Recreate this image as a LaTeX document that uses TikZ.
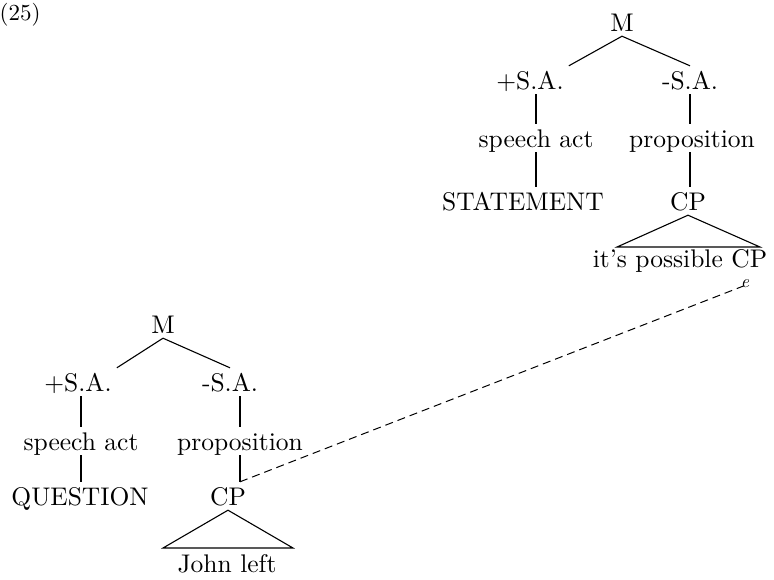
\documentclass[tikz,border=0pt]{standalone}
\usepackage{fontspec}
\setmainfont{lmroman10-regular.otf}[ItalicFont=lmroman10-italic.otf]
\begin{document}
\begin{tikzpicture}[x=1pt,y=-1pt,
  lab/.style={anchor=base,inner sep=5pt,font=\fontsize{25.5}{30}\selectfont,text height=18pt,text depth=0pt},
  edge/.style={line width=1.1pt},
  dashline/.style={line width=1pt,dash pattern=on 8pt off 5pt}]
\useasboundingbox (0,0) rectangle (774,579);
\node[anchor=center,inner sep=0pt,font=\fontsize{23}{25}\selectfont] (num) at (20,15) {(25)};
% top tree
\node[lab] (tM) at (622,31) {M};
\node[lab] (tp) at (530,89) {+S.A.};
\node[lab] (tm) at (690,89) {-S.A.};
\node[lab] (tsa) at (536,147) {speech act};
\node[lab] (tpr) at (692,147) {proposition};
\node[lab] (tst) at (523,210) {STATEMENT};
\node[lab] (tcp) at (688,210) {CP};
\node[lab] (tyl) at (680,267) {it's possible CP};
\node[anchor=base,inner sep=0pt,font=\fontsize{18}{20}\selectfont\itshape] (te) at (745,287) {e};
\coordinate (tl) at (617,247);
\coordinate (tr) at (760,247);
\draw[edge] (tM.south) -- (tp.north east);
\draw[edge] (tM.south) -- (tm.north);
\draw[edge] (tp.south -| tsa.north) -- (tsa.north);
\draw[edge] (tsa.south) -- (tsa.south |- tst.north);
\draw[edge] (tm.south) -- (tm.south |- tpr.north);
\draw[edge] (tpr.south -| tm.south) -- (tm.south |- tcp.north);
\draw[edge] (tcp.south) -- (tl) -- (tr) -- cycle;
% bottom tree
\node[lab] (bM) at (163,333) {M};
\node[lab] (bp) at (78,391) {+S.A.};
\node[lab] (bm) at (230,391) {-S.A.};
\node[lab] (bsa) at (81,450) {speech act};
\node[lab] (bpr) at (240,450) {proposition};
\node[lab] (bq) at (80,505) {QUESTION};
\node[lab] (bcp) at (228,505) {CP};
\node[lab] (byl) at (227,572) {John left};
\coordinate (bl) at (163,548);
\coordinate (br) at (293,548);
\coordinate (bj) at (bpr.south |- bcp.north);
\draw[edge] (bM.south) -- (bp.north east);
\draw[edge] (bM.south) -- (bm.north);
\draw[edge] (bp.south -| bsa.north) -- (bsa.north);
\draw[edge] (bsa.south) -- (bsa.south |- bq.north);
\draw[edge] (bm.south -| bpr.north) -- (bpr.north);
\draw[edge] (bpr.south) -- (bj);
\draw[edge] (bcp.south) -- (bl) -- (br) -- cycle;
\draw[dashline] (bj) -- ([yshift=2pt]te.south);
\end{tikzpicture}
\end{document}
